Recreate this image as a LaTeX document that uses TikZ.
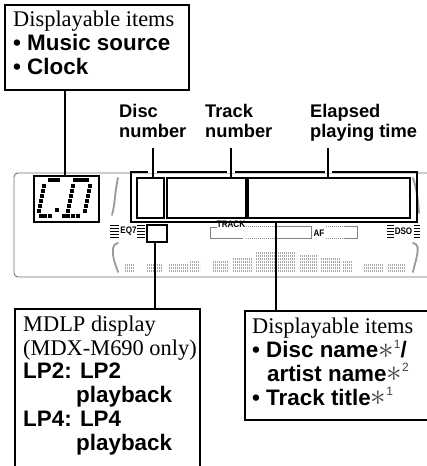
\documentclass[tikz,border=0pt]{standalone}
\usepackage{fontspec}
\setmainfont{Liberation Serif}
\setsansfont{Liberation Sans}
\newcommand{\bs}{\sffamily\bfseries}
\newcommand{\rg}{\rmfamily\mdseries}
\newcommand{\fn}[1]{{\mdseries\color{black!75}\raisebox{-0.02em}{\scalebox{1.5}{$\ast$}}\raisebox{0.42em}{\sffamily\fontsize{12}{12}\selectfont #1}}}
\tikzset{
  x=1pt,y=-1pt,
  heavy/.style={line width=2.4pt,black},
  callout/.style={draw=black,line width=2.4pt,fill=white,inner sep=0pt,anchor=north west},
  txt/.style={anchor=base west,inner sep=0pt,align=left,font=\fontsize{22.4}{23.7}\selectfont},
  head/.style={anchor=base west,inner sep=0pt,align=left,font=\fontsize{18.3}{20}\selectfont\sffamily\bfseries},
  win/.style={draw=black,line width=2.4pt,inner sep=0pt,anchor=north west},
  outline/.style={draw=black!55,line width=0.9pt},
  grey/.style={draw=black!50,line width=0.9pt},
  dots/.style={draw=black!45,line width=0.8pt,dash pattern=on 1pt off 1pt},
  paren/.style={draw=black!40,line width=1.8pt,line cap=round},
  seg/.style={fill=black,draw=none},
  small/.style={inner sep=0pt,font=\fontsize{9.5}{10}\selectfont\sffamily\bfseries,xscale=0.85},
  marks/.style={draw=black,line width=0.8pt},
  bars/.style={draw=black!35,line width=1.9pt,dash pattern=on 1.4pt off 0.6pt}
}
\begin{document}
\begin{tikzpicture}
\useasboundingbox (0,0) rectangle (426,466);
\fill[white] (0,0) rectangle (426,466);
% display outline
\draw[outline,rounded corners=4pt] (430,173) -- (14,173) -- (14,277) -- (430,277);
% spectrum
\foreach \xa/\xb/\yt in {125/134/264,147/162/265,169/188/263,190/200/262,213/228/261,233/252/259,256/296/252,300/318/256,321/340/258,343/352/262,364/383/265,388/405/264}{
  \foreach \yy in {271,268,...,\yt}{
    \draw[bars] (\xa,\yy) -- (\xb,\yy);
  }
}
% parentheses
\draw[paren] (118,178) .. controls (115,190) and (115,205) .. (112,215);
\draw[paren] (118,243) .. controls (112,244) and (113,250) .. (113,255) .. controls (114,262) and (116,266) .. (118,272);
\draw[paren] (413,178) .. controls (417,190) and (418,200) .. (419,213);
\draw[paren] (413,243) .. controls (419,244) and (418,250) .. (417,255) .. controls (416,262) and (414,266) .. (413,272);
% track / AF boxes
\draw[grey] (210,227) -- (217,227);
\draw[grey] (210,227) -- (210,238) -- (243,238);
\draw[dots] (246,226) -- (276,226);
\draw[dots] (246,238) -- (276,238);
\draw[grey] (276,226) -- (311,226) -- (311,238) -- (276,238);
\draw[dots] (326,226) -- (345,226);
\draw[dots] (326,238) -- (345,238);
\draw[grey] (345,226) -- (357,226) -- (357,238) -- (345,238);
\node[small] (tracklbl) at (231,224) {TRACK};
\node[small] (aflbl) at (319,233) {AF};
% EQ7 and DSO
\node[small] (eq) at (128.5,231) {EQ7};
\node[small] (dso) at (403.5,231) {DSO};
\foreach \yy in {225,228,231,234,237}{
  \draw[marks] (110,\yy) -- (119,\yy);
  \draw[marks] (137,\yy) -- (145,\yy);
  \draw[marks] (387,\yy) -- (394,\yy);
  \draw[marks] (414,\yy) -- (420,\yy);
}
% source window
\node[win,fill=white,minimum width=65pt,minimum height=46pt] (cdwin) at (33,175) {};
\foreach \px/\py in {50/180,54/180,58/180,75/180,79/180,83/180,87/180,
  44/186,43/191,42/196,41/201,40/206,39/211,
  73/186,72/191,71/196,70/201,69/206,68/211,
  90/186,89/191,88/196,87/201,86/206,85/211,
  41/215.5,45/215.5,50/215.5,57/210,64/215.5,68/215.5,73/215.5,78/215.5}{
  \fill[seg] (\px,\py) +(-1.7,-2) rectangle +(1.7,2);
}
% frame around time windows
\node[win,minimum width=286pt,minimum height=50pt] (frame) at (130,171) {};
\draw[white,line width=4pt] (148,171) -- (157,171);
\draw[white,line width=4pt] (227,171) -- (235,171);
\draw[white,line width=4pt] (325,171) -- (332,171);
\node[win,minimum width=27pt,minimum height=40pt] (discbox) at (136,177) {};
\node[win,minimum width=79pt,minimum height=40pt] (trackbox) at (166,177) {};
\node[win,minimum width=162pt,minimum height=40pt] (timebox) at (247,177) {};
\node[win,fill=white,minimum width=20pt,minimum height=17pt] (lpbox) at (146,224) {};
% heads
\node[head] (h1) at (119,137) {Disc\\number};
\node[head] (h2) at (205,137) {Track\\number};
\node[head] (h3) at (310,137) {Elapsed\\playing time};
\coordinate (c1) at (153,148);
\coordinate (c2) at (231,148);
\coordinate (c3) at (328,148);
\draw[heavy] (c1) -- (c1 |- discbox.north);
\draw[heavy] (c2) -- (c2 |- trackbox.north);
\draw[heavy] (c3) -- (c3 |- timebox.north);
% callouts
\node[callout,minimum width=184pt,minimum height=85pt] (topbox) at (4,4) {};
\node[txt] (toptxt) at (13,74) {\rg Displayable items\\ \bs • Music source\\ \bs • Clock};
\draw[heavy] (65,89) coordinate (c4) -- (c4 |- cdwin.north);
\node[callout,minimum width=190pt,minimum height=109pt] (rightbox) at (244,310) {};
\node[txt] (righttxt) at (252,405) {\rg Displayable items\\ \bs • Disc name\fn{1}/\\ \bs \hspace*{14.9pt}artist name\fn{2}\\ \bs • Track title\fn{1}};
\draw[heavy] (276,221) coordinate (c5) -- (c5 |- rightbox.north);
\coordinate (ml) at (15,468);
\coordinate (mr) at (200,468);
\draw[heavy] (ml) -- (15,309) -- (200,309) -- (mr);
\node[txt] (midtxt) at (23,450) {\rg MDLP display\\ \rg (MDX-M690 only)\\ \bs LP2: LP2\\ \bs \hspace*{53pt}playback\\ \bs LP4: LP4\\ \bs \hspace*{53pt}playback};
\draw[heavy] (155,241) coordinate (c6) -- (155,309);
\end{tikzpicture}
\end{document}
